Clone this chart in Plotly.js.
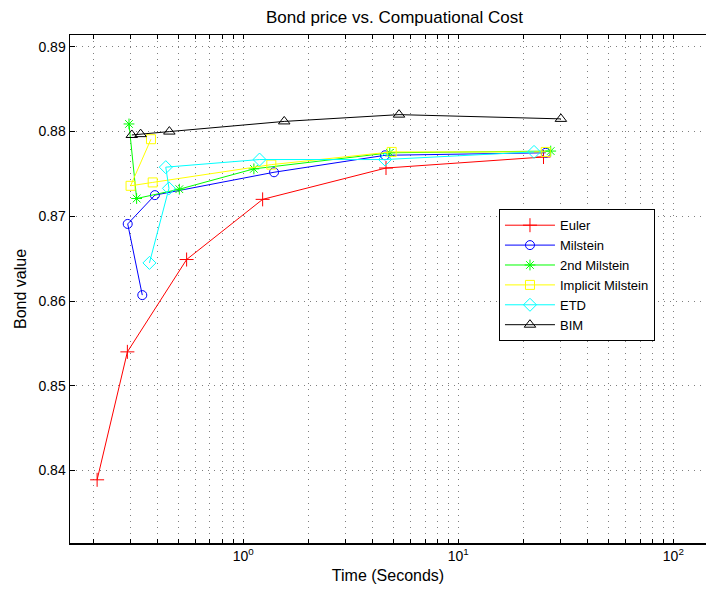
<!DOCTYPE html>
<html>
<head>
<meta charset="utf-8">
<script src="https://cdn.plot.ly/plotly-3.0.1.min.js"></script>
<style>
html,body{margin:0;padding:0;overflow:hidden;background:#fff;}
#chart{width:706px;height:593px;}
</style>
</head>
<body>
<div id="chart"></div>
<script>
// Data
const eulerTime = [0.209, 0.289, 0.545, 1.23, 4.61, 24.9];
const eulerValue = [0.8389, 0.8540, 0.8649, 0.8720, 0.8757, 0.8770];

const milsteinTime = [0.339, 0.290, 0.388, 1.39, 4.56, 25.5];
const milsteinValue = [0.8607, 0.8691, 0.8725, 0.8752, 0.8772, 0.8775];

const milstein2Time = [0.294, 0.319, 0.504, 1.12, 4.8, 26.9];
const milstein2Value = [0.8809, 0.8721, 0.8732, 0.8756, 0.8775, 0.8777];

const implicitTime = [0.372, 0.299, 0.379, 1.35, 4.90, 25.5];
const implicitValue = [0.8791, 0.8736, 0.8740, 0.8761, 0.8776, 0.8776];

const etdTime = [0.366, 0.451, 0.436, 1.19, 4.56, 22.5];
const etdValue = [0.8645, 0.8733, 0.8758, 0.8767, 0.8767, 0.8776];

const bimTime = [0.303, 0.333, 0.453, 1.55, 5.30, 30.0];
const bimValue = [0.8796, 0.8797, 0.8800, 0.8812, 0.8820, 0.8815];

const seriesNames = ["Euler", "Milstein", "2nd Milstein", "Implicit Milstein", "ETD", "BIM"];
const yTicks = [0.84, 0.85, 0.86, 0.87, 0.88, 0.89];
const xTickVals = [0.2,0.3,0.4,0.5,0.6,0.7,0.8,0.9,1,2,3,4,5,6,7,8,9,10,20,30,40,50,60,70,80,90,100];
const xTickText = xTickVals.map(v => v === 1 ? "10<sup>0</sup>" : v === 10 ? "10<sup>1</sup>" : v === 100 ? "10<sup>2</sup>" : "");

function tr(x, y, name, color, symbol, size) {
  return {
    x: x, y: y, name: name, type: "scatter", mode: "lines+markers",
    line: {color: color, width: 1},
    marker: {symbol: symbol, size: size, color: color, line: {color: color, width: 1}}
  };
}

const data = [
  tr(eulerTime, eulerValue, seriesNames[0], "#ff0000", "cross-thin-open", 10),
  tr(milsteinTime, milsteinValue, seriesNames[1], "#0000ff", "circle-open", 9),
  tr(milstein2Time, milstein2Value, seriesNames[2], "#00ff00", "asterisk-open", 9),
  tr(implicitTime, implicitValue, seriesNames[3], "#ffff00", "square-open", 9),
  tr(etdTime, etdValue, seriesNames[4], "#00ffff", "diamond-open", 10),
  tr(bimTime, bimValue, seriesNames[5], "#000000", "triangle-up-open", 10)
];

const layout = {
  width: 706, height: 593,
  margin: {l: 70, r: 0, t: 35, b: 50.3},
  paper_bgcolor: "#ffffff", plot_bgcolor: "#ffffff",
  font: {family: "Liberation Sans, Arial, sans-serif", color: "#000", size: 14},
  title: {text: "Bond price vs. Compuational Cost", x: 0.5588, xanchor: "center", xref: "container", y: 0.971, yanchor: "middle", font: {size: 17}},
  showlegend: true,
  legend: {x: 0.6745, y: 0.657, xanchor: "left", yanchor: "top", bgcolor: "#fff", bordercolor: "#000", borderwidth: 1, font: {size: 13}, tracegroupgap: 0, itemwidth: 50},
  xaxis: {
    type: "log",
    range: [-0.806, 2.152],
    tickvals: xTickVals, ticktext: xTickText,
    ticks: "inside", ticklen: 4, tickcolor: "#000",
    showline: true, linecolor: "#000", linewidth: 1.5, mirror: "ticks",
    showgrid: true, gridcolor: "rgba(0,0,0,0.5)", griddash: "1px,5px", gridwidth: 1,
    zeroline: false,
    tickfont: {size: 14},
    title: {text: "Time (Seconds)", font: {size: 16}, standoff: 6}
  },
  yaxis: {
    range: [0.83144, 0.8914],
    tickvals: yTicks, ticktext: yTicks.map(v => v.toFixed(2)),
    ticks: "inside", ticklen: 5, tickcolor: "#000",
    showline: true, linecolor: "#000", linewidth: 1.5, mirror: false,
    showgrid: true, gridcolor: "rgba(0,0,0,0.5)", griddash: "1px,5px", gridwidth: 1,
    zeroline: false,
    tickfont: {size: 14},
    title: {text: "Bond value", font: {size: 16}, standoff: 8}
  }
};

Plotly.newPlot("chart", data, layout, {displayModeBar: false, staticPlot: true});
</script>
</body>
</html>
